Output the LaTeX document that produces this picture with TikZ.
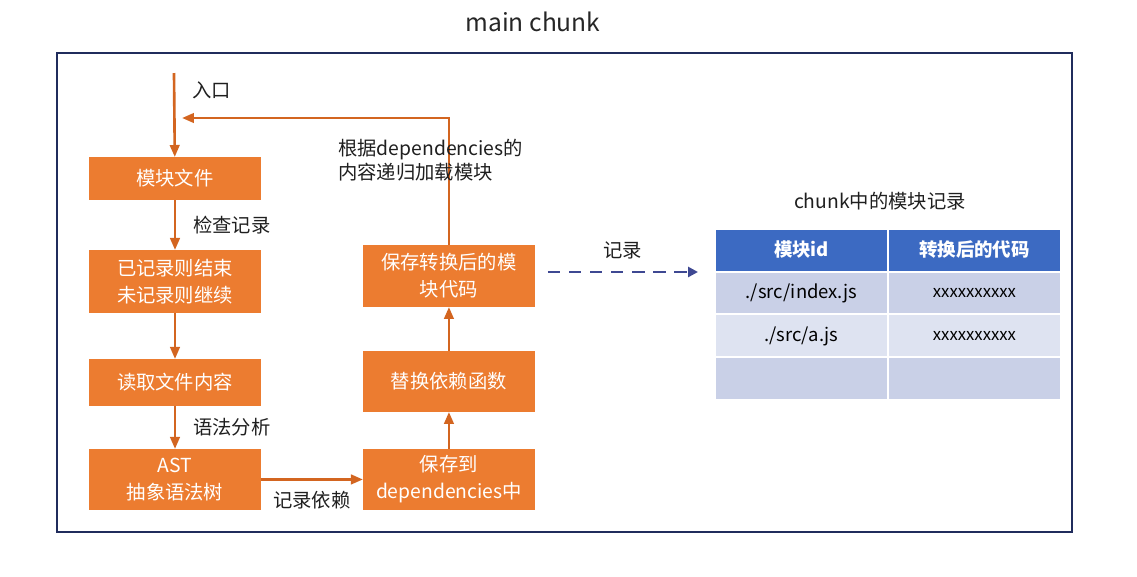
\documentclass[tikz,border=0pt]{standalone}
\usepackage{fontspec}
\setmainfont{Noto Sans CJK SC}
\usetikzlibrary{arrows.meta,positioning,calc}
\definecolor{boxorange}{RGB}{236,124,48}
\definecolor{arrorange}{RGB}{211,101,32}
\definecolor{framenavy}{RGB}{32,44,92}
\definecolor{recblue}{RGB}{62,72,146}
\definecolor{headblue}{RGB}{60,106,194}
\definecolor{rowdark}{RGB}{201,208,231}
\definecolor{rowlight}{RGB}{222,227,241}

\begin{document}
\begin{tikzpicture}[x=0.02cm, y=-0.02cm,
  box/.style={fill=boxorange, text=white, align=center, minimum width=3.44cm, minimum height=1.22cm, inner sep=2pt, outer sep=0pt, font=\fontsize{11}{15.5}\selectfont},
  lbl/.style={font=\fontsize{11}{13.6}\selectfont, text=black!88},
  arr/.style={-{Triangle[length=2.4mm,width=1.9mm]}, draw=arrorange, line width=1.5pt},
  rec/.style={-{Triangle[length=2mm,width=2mm]}, draw=recblue, line width=1.5pt, dash pattern=on 7pt off 5pt},
  cell/.style={minimum width=3.42cm, minimum height=0.82cm, inner sep=0pt, outer sep=0pt, font=\fontsize{10.5}{13}\selectfont}]
\useasboundingbox (0,0) rectangle (1137,576);
\node[font=\fontsize{14}{17}\selectfont, text=black!85] (title) at (533,22) {main chunk};
\draw[framenavy, line width=1.2pt] (57,53) rectangle (1072,532);

% left column
\node[box, minimum height=0.86cm] (mk) at (175,178.5) {模块文件};
\node[box, below=1.0cm of mk, minimum height=1.26cm] (jl) {已记录则结束\\未记录则继续};
\node[box, below=0.92cm of jl, minimum height=0.94cm] (dq) {读取文件内容};
\node[box, below=0.86cm of dq] (ast) {AST\\抽象语法树};
% right column
\node[box, right=2.04cm of ast] (bc) {保存到\\dependencies中};
\node[box, above=0.74cm of bc] (th) {替换依赖函数};
\node[box, above=0.88cm of th, minimum height=1.24cm] (bz) {保存转换后的模\\块代码};

\coordinate (in) at (174,73);
\coordinate (back) at (182,118);
\draw[arr] (in) -- node[lbl, right=0.22cm, pos=0.2] {入口} (mk);
\draw[arr] (mk) -- node[lbl, right=0.22cm] {检查记录} (jl);
\draw[arr] (jl) -- (dq);
\draw[arr] (dq) -- node[lbl, right=0.22cm] {语法分析} (ast);
\draw[arr] (ast) -- node[lbl, below=0.1cm] {记录依赖} (bc);
\draw[arr] (bc) -- (th); \draw[arr] (th) -- (bz);
\draw[arr] (bz.north) |- (back);
\node[lbl, anchor=west, align=left] (load) at (332,160) {根据dependencies的\\内容递归加载模块};

% table
\node[lbl] (ct) at (880,201) {chunk中的模块记录};
\node[cell, fill=headblue, text=white, font=\fontsize{10.5}{13}\selectfont\bfseries] (h1) at (801.5,250) {模块id};
\node[cell, fill=headblue, text=white, font=\fontsize{10.5}{13}\selectfont\bfseries, right=0.04cm of h1] (h2) {转换后的代码};
\node[cell, fill=rowdark, below=0.04cm of h1] (r1a) {./src/index.js};
\node[cell, fill=rowdark, below=0.04cm of h2, font=\fontsize{9.5}{12}\selectfont] (r1b) {xxxxxxxxxx};
\node[cell, fill=rowlight, below=0.04cm of r1a] (r2a) {./src/a.js};
\node[cell, fill=rowlight, below=0.04cm of r1b, font=\fontsize{9.5}{12}\selectfont] (r2b) {xxxxxxxxxx};
\node[cell, fill=rowdark, below=0.04cm of r2a] (r3a) {};
\node[cell, fill=rowdark, below=0.04cm of r2b] (r3b) {};

\draw[rec] ([xshift=0.26cm,yshift=0.08cm]bz.east) -- node[lbl, above=0.12cm] {记录} ([xshift=-0.36cm,yshift=0.08cm]bz.east -| r1a.west);
\end{tikzpicture}
\end{document}
